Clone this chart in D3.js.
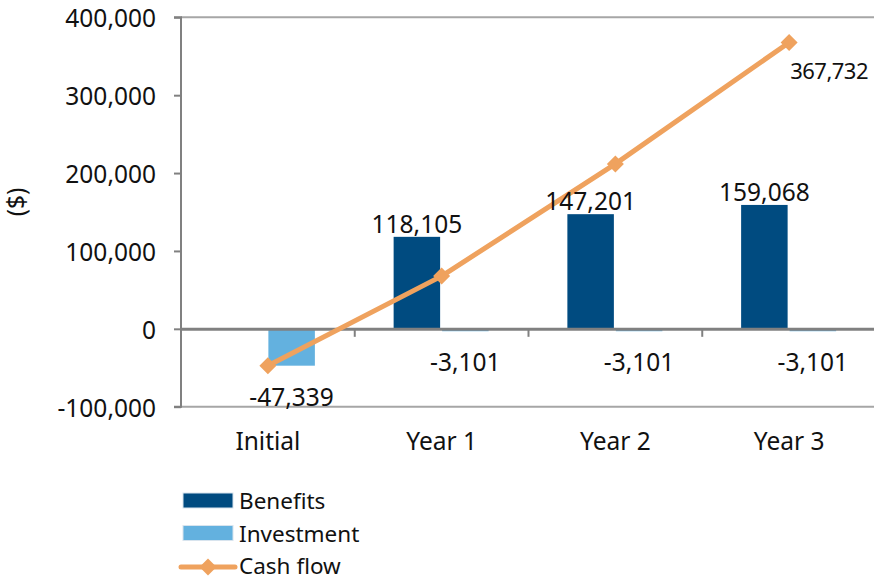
<!DOCTYPE html>
<html>
<head>
<meta charset="utf-8">
<script src="https://cdn.jsdelivr.net/npm/d3@7"></script>
<style>
  html, body { margin: 0; padding: 0; background: #fff; }
  text { font-family: "Noto Sans", "DejaVu Sans", sans-serif; fill: #111; }
</style>
</head>
<body>
<svg id="chart" width="874" height="585"></svg>
<script>
const categories = ["Initial", "Year 1", "Year 2", "Year 3"];
const benefits = [0, 118105, 147201, 159068];
const investment = [-47339, -3101, -3101, -3101];
const cashFlow = [-47339, 67665, 211765, 367732];
const yTicks = [-100000, 0, 100000, 200000, 300000, 400000];
const seriesNames = ["Benefits", "Investment", "Cash flow"];

const colors = { benefits: "#004B80", investment: "#63B1DF", cash: "#EFA25E" };
const svg = d3.select("#chart");
const fmt0 = d3.format(",");
const fmt = v => fmt0(v).replace("\u2212", "-");

const x = d3.scaleBand().domain(categories).range([181, 876]).padding(0);
const y = d3.scaleLinear().domain([-100000, 400000]).range([406.7, 17.3]);
const bw = x.bandwidth();
const barW = 46.5;
const cx = c => x(c) + bw / 2;

// top / bottom frame lines
svg.append("line").attr("x1", 181).attr("x2", 874).attr("y1", y(400000)).attr("y2", y(400000))
  .attr("stroke", "#A6A6A6").attr("stroke-width", 2);
svg.append("line").attr("x1", 181).attr("x2", 874).attr("y1", y(-100000)).attr("y2", y(-100000))
  .attr("stroke", "#A6A6A6").attr("stroke-width", 2);

// bars
svg.append("g").selectAll("rect").data(categories).join("rect")
  .attr("x", c => cx(c) - barW - 1.5)
  .attr("width", barW)
  .attr("y", (c, i) => y(Math.max(0, benefits[i])))
  .attr("height", (c, i) => Math.abs(y(benefits[i]) - y(0)))
  .attr("fill", colors.benefits);

svg.append("g").selectAll("rect").data(categories).join("rect")
  .attr("x", c => cx(c) + 0.5)
  .attr("width", barW)
  .attr("y", (c, i) => y(Math.max(0, investment[i])))
  .attr("height", (c, i) => Math.abs(y(investment[i]) - y(0)))
  .attr("fill", colors.investment);

// y axis
const yAxis = d3.axisLeft(y).tickValues(yTicks).tickSize(7).tickFormat(d => fmt(d));
const gy = svg.append("g").attr("transform", "translate(181,0)").call(yAxis);
gy.select(".domain").attr("stroke", "#808080").attr("stroke-width", 2).attr("d", `M-7,${y(400000)}H0V${y(-100000)}H-7`);
gy.selectAll(".tick line").attr("stroke", "#808080").attr("stroke-width", 2);
gy.selectAll(".tick text").attr("x", -25).attr("dy", "0.38em")
  .style("font-size", "24.5px").style("font-family", "'Noto Sans', sans-serif").attr("fill", "#111");

// zero line (category axis)
svg.append("line").attr("x1", 181).attr("x2", 874).attr("y1", y(0) + 0.5).attr("y2", y(0) + 0.5)
  .attr("stroke", "#808080").attr("stroke-width", 3);
const bounds = categories.slice(1).map(c => x(c));
svg.append("g").selectAll("line").data(bounds).join("line")
  .attr("x1", d => d).attr("x2", d => d).attr("y1", y(0)).attr("y2", y(0) + 8)
  .attr("stroke", "#808080").attr("stroke-width", 2);

// category labels
svg.append("g").selectAll("text").data(categories).join("text")
  .attr("x", c => cx(c)).attr("y", 450).attr("text-anchor", "middle")
  .style("font-size", "24.5px").text(c => c);

// y title
svg.append("text").attr("transform", "translate(25,202) rotate(-90)").attr("text-anchor", "middle")
  .style("font-size", "24.5px").text("($)");

// cash flow line
const line = d3.line().x((d, i) => cx(categories[i])).y(d => y(d));
svg.append("path").datum(cashFlow).attr("d", line).attr("fill", "none")
  .attr("stroke", colors.cash).attr("stroke-width", 5).attr("stroke-linejoin", "round");
const diamond = s => `M0,${-s}L${s},0L0,${s}L${-s},0Z`;
svg.append("g").selectAll("path").data(cashFlow).join("path")
  .attr("transform", (d, i) => `translate(${cx(categories[i])},${y(d)})`)
  .attr("d", diamond(8.5)).attr("fill", colors.cash);

// data labels
svg.append("g").selectAll("text").data(categories.slice(1)).join("text")
  .attr("x", c => cx(c) - barW / 2 - 1.5)
  .attr("y", (c, i) => y(benefits[i + 1]) - 4)
  .attr("text-anchor", "middle").style("font-size", "24.5px")
  .text((c, i) => fmt(benefits[i + 1]));
svg.append("g").selectAll("text").data(categories).join("text")
  .attr("x", c => cx(c) + barW / 2 + 0.5)
  .attr("y", (c, i) => y(investment[i]) + 40)
  .attr("text-anchor", "middle").style("font-size", "24.5px")
  .text((c, i) => fmt(investment[i]));
const last = cashFlow.length - 1;
svg.append("text").attr("x", cx(categories[last]) + 1).attr("y", y(cashFlow[last]) + 37)
  .style("font-size", "22px").style("letter-spacing", "-0.5px")
  .text(fmt(cashFlow[last]));

// legend
const lg = svg.append("g");
const legendFill = [colors.benefits, colors.investment];
lg.selectAll("rect").data(legendFill).join("rect")
  .attr("x", 183).attr("y", (d, i) => 493 + i * 32.5).attr("width", 50).attr("height", 15)
  .attr("fill", d => d).attr("stroke", "#d8e4ee").attr("stroke-width", 1);
lg.append("line").attr("x1", 181).attr("x2", 235).attr("y1", 567).attr("y2", 567)
  .attr("stroke", colors.cash).attr("stroke-width", 5).attr("stroke-linecap", "round");
lg.append("path").attr("transform", "translate(208,567)").attr("d", diamond(8.5)).attr("fill", colors.cash);
lg.selectAll("text").data(seriesNames).join("text")
  .attr("x", 239).attr("y", (d, i) => 509 + i * 32.5)
  .style("font-size", "22.5px").text(d => d);
</script>
</body>
</html>
